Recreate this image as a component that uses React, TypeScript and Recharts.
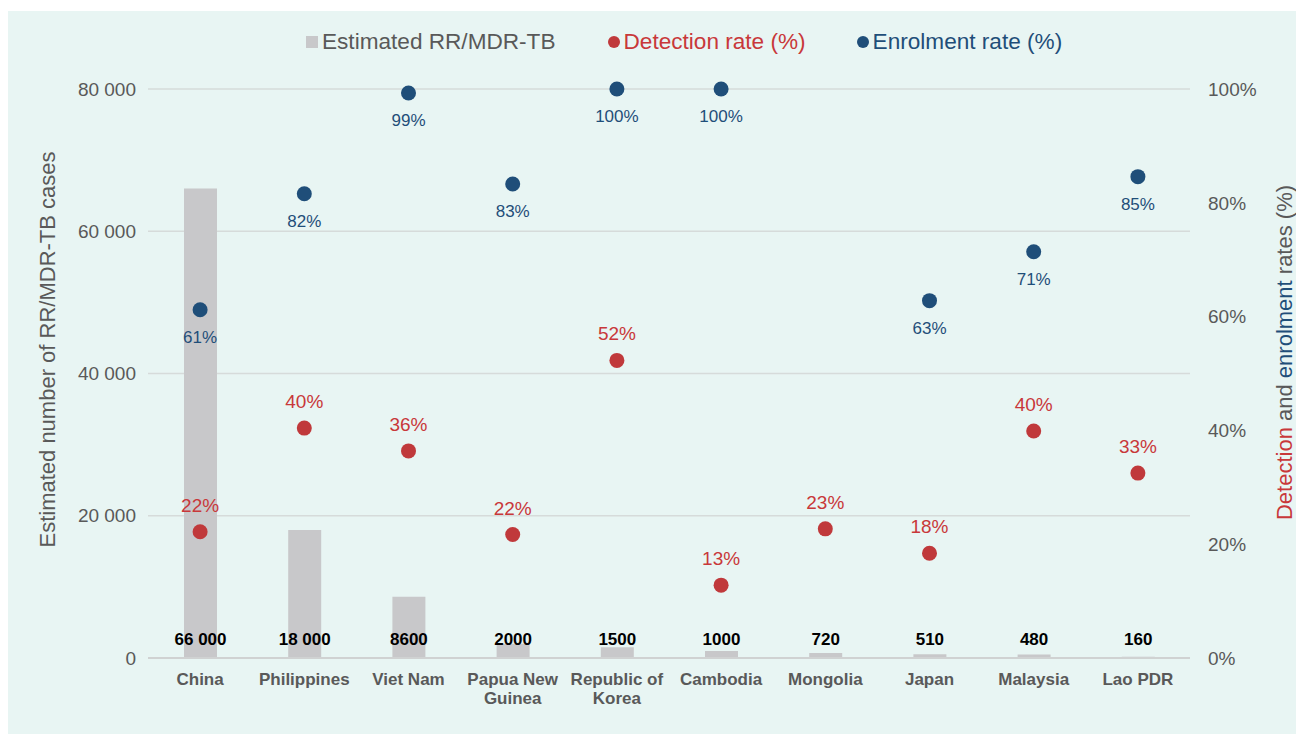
import React from "react";
import { ComposedChart, Bar, Line, XAxis, YAxis, CartesianGrid, LabelList } from "recharts";

const categories = ["China", "Philippines", "Viet Nam", "Papua New Guinea", "Republic of Korea", "Cambodia", "Mongolia", "Japan", "Malaysia", "Lao PDR"];
const estimatedCases = [66000, 18000, 8600, 2000, 1500, 1000, 720, 510, 480, 160];
const detectionRate = [22.2, 40.4, 36.4, 21.7, 52.3, 12.8, 22.7, 18.4, 39.9, 32.5];
const enrolmentRate: (number | null)[] = [61.2, 81.6, 99.3, 83.3, 100, 100, null, 62.8, 71.4, 84.6];
const leftTicks = [0, 20000, 40000, 60000, 80000];
const rightTicks = [0, 20, 40, 60, 80, 100];

const data = categories.map((name, i) => ({
  name,
  cases: estimatedCases[i],
  detection: detectionRate[i],
  enrolment: enrolmentRate[i],
}));

const GREY_TEXT = "#595959";
const BAR = "#C8C8CA";
const RED = "#C0393B";
const RED_TEXT = "#C8383A";
const BLUE = "#1F4E79";
const BG = "#E8F5F3";
const FONT = "'Liberation Sans', Arial, sans-serif";

const fmtThousands = (v: number) => {
  const s = String(v);
  if (v >= 10000) return s.slice(0, s.length - 3) + " " + s.slice(s.length - 3);
  return s;
};

const splitLabel = (s: string): string[] => {
  if (s.length <= 12) return [s];
  const idx = s.lastIndexOf(" ");
  return [s.slice(0, idx), s.slice(idx + 1)];
};

const XTick = (props: any) => {
  const { x, y, payload } = props;
  const lines = splitLabel(String(payload.value));
  return (
    <text x={x} y={y + 19} textAnchor="middle" fill={GREY_TEXT} fontSize={17} fontWeight="bold">
      {lines.map((l, i) => (
        <tspan key={i} x={x} dy={i === 0 ? 0 : 19}>{l}</tspan>
      ))}
    </text>
  );
};

const getBox = (props: any) => {
  const vb = props.viewBox || {};
  return {
    x: props.x ?? vb.x,
    y: props.y ?? vb.y,
    width: props.width ?? vb.width,
    height: props.height ?? vb.height,
  };
};

const BarLabel = (props: any) => {
  const { value } = props;
  if (value == null) return null;
  const b = getBox(props);
  return (
    <text x={b.x + b.width / 2} y={b.y + b.height - 13} textAnchor="middle" fill="#000" fontSize={17} fontWeight="bold">
      {fmtThousands(Number(value))}
    </text>
  );
};

const RedLabel = (props: any) => {
  const { value } = props;
  if (value == null) return null;
  const b = getBox(props);
  return (
    <text x={b.x} y={b.y - 20} textAnchor="middle" fill={RED_TEXT} fontSize={19}>
      {Math.round(Number(value))}%
    </text>
  );
};

const BlueLabel = (props: any) => {
  const { value } = props;
  if (value == null) return null;
  const b = getBox(props);
  return (
    <text x={b.x} y={b.y + 33} textAnchor="middle" fill={BLUE} fontSize={17}>
      {Math.round(Number(value))}%
    </text>
  );
};

const LeftAxisLabel = (props: any) => {
  const vb = props.viewBox;
  const cx = vb.x + vb.width - 101;
  const cy = vb.y + vb.height / 2 - 24;
  return (
    <text x={cx} y={cy} transform={`rotate(-90, ${cx}, ${cy})`} textAnchor="middle" dominantBaseline="central" fill={GREY_TEXT} fontSize={22}>
      Estimated number of RR/MDR-TB cases
    </text>
  );
};

const RightAxisLabel = (props: any) => {
  const vb = props.viewBox;
  const cx = vb.x + 94;
  const cy = vb.y + vb.height / 2 - 21;
  return (
    <text x={cx} y={cy} transform={`rotate(-90, ${cx}, ${cy})`} textAnchor="middle" dominantBaseline="central" fontSize={22} style={{ whiteSpace: "pre" }}>
      <tspan fill={RED_TEXT}>Detection</tspan>
      <tspan fill={GREY_TEXT}> and </tspan>
      <tspan fill={BLUE}>enrolment</tspan>
      <tspan fill={GREY_TEXT}> rates (%)</tspan>
    </text>
  );
};

const LegendBox = () => (
  <div
    style={{
      position: "absolute",
      left: 298,
      top: 20,
      display: "flex",
      alignItems: "center",
      fontSize: 22.6,
      lineHeight: "22px",
      whiteSpace: "nowrap",
      fontFamily: FONT,
    }}
  >
    <span style={{ width: 12, height: 12, background: BAR, display: "inline-block", marginRight: 4 }} />
    <span style={{ color: GREY_TEXT }}>Estimated RR/MDR-TB</span>
    <span style={{ width: 12, height: 12, borderRadius: 6, background: RED, display: "inline-block", marginLeft: 52, marginRight: 4 }} />
    <span style={{ color: RED_TEXT }}>Detection rate (%)</span>
    <span style={{ width: 12, height: 12, borderRadius: 6, background: BLUE, display: "inline-block", marginLeft: 51, marginRight: 4 }} />
    <span style={{ color: BLUE }}>Enrolment rate (%)</span>
  </div>
);

export default function App() {
  return (
    <div style={{ position: "fixed", left: 8, top: 11, width: 1288, height: 723, background: BG, fontFamily: FONT }}>
      <style>{"html{overflow:hidden}"}</style>
      <LegendBox />
      <ComposedChart width={1288} height={723} data={data} margin={{ top: 78, right: 46, bottom: 16, left: 60 }} style={{ fontFamily: FONT, overflow: "visible" }}>
        <CartesianGrid yAxisId="left" vertical={false} stroke="#D6DBDA" strokeWidth={1.5} />
        <XAxis
          dataKey="name"
          height={60}
          interval={0}
          tickLine={false}
          axisLine={{ stroke: "#D0D2D2", strokeWidth: 2 }}
          tick={<XTick />}
        />
        <YAxis
          yAxisId="left"
          width={80}
          domain={[0, 80000]}
          ticks={leftTicks}
          axisLine={false}
          tickLine={false}
          tickMargin={6}
          tick={{ fill: GREY_TEXT, fontSize: 19 }}
          tickFormatter={(v: number) => fmtThousands(v)}
          label={(p: any) => <LeftAxisLabel {...p} />}
        />
        <YAxis
          yAxisId="right"
          orientation="right"
          width={60}
          domain={[0, 100]}
          ticks={rightTicks}
          axisLine={false}
          tickLine={false}
          tickMargin={12}
          tick={{ fill: GREY_TEXT, fontSize: 19, textAnchor: "start" }}
          tickFormatter={(v: number) => `${v}%`}
          label={(p: any) => <RightAxisLabel {...p} />}
        />
        <Bar yAxisId="left" dataKey="cases" fill={BAR} barSize={33} isAnimationActive={false}>
          <LabelList dataKey="cases" content={BarLabel} />
        </Bar>
        <Line
          yAxisId="right"
          dataKey="detection"
          stroke="none"
          dot={{ r: 7.5, fill: RED, stroke: "none" }}
          activeDot={false}
          isAnimationActive={false}
        >
          <LabelList dataKey="detection" content={RedLabel} />
        </Line>
        <Line
          yAxisId="right"
          dataKey="enrolment"
          stroke="none"
          dot={{ r: 7.5, fill: BLUE, stroke: "none" }}
          activeDot={false}
          isAnimationActive={false}
        >
          <LabelList dataKey="enrolment" content={BlueLabel} />
        </Line>
      </ComposedChart>
    </div>
  );
}
